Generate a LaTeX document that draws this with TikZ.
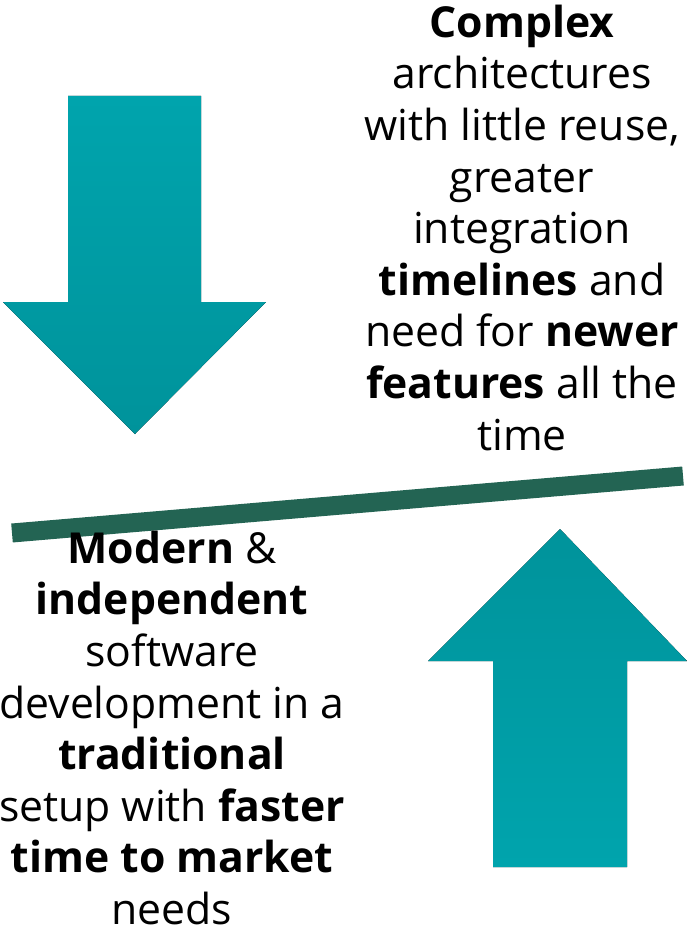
\documentclass[tikz,border=0pt]{standalone}
\usepackage{fontspec}
\setmainfont{Open Sans}

\definecolor{tealtop}{RGB}{0,164,173}
\definecolor{tealbot}{RGB}{0,147,155}
\definecolor{levercol}{RGB}{35,100,83}

\begin{document}
\begin{tikzpicture}[x=1pt, y=-1pt,
	blurb/.style={align=center, inner sep=0, font=\fontsize{42.7}{51.6}\selectfont}]
		\useasboundingbox (0, 0) rectangle (687, 931);

		% arrow pushing down
		\fill[top color=tealtop, bottom color=tealbot] (68, 96) -- (201, 96) -- (201, 302) -- (266, 302) -- (135, 434) -- (3, 302) -- (68, 302) -- cycle;
		% arrow pushing up
		\fill[top color=tealbot, bottom color=tealtop] (493, 867) -- (627, 867) -- (627, 661) -- (687, 661) -- (560, 529) -- (428, 661) -- (493, 661) -- cycle;

		% the tilted bar
		\draw[levercol, line width=19] (12, 533) -- (683, 476);

		\node[blurb, anchor=north] (complex) at (522, 4.6) {\textbf{Complex}\\architectures\\with little reuse,\\greater\\integration\\\textbf{timelines} and\\need for \textbf{newer}\\\textbf{features} all the\\time};
		\node[blurb, anchor=north] (modern) at (172, 530.6) {\textbf{Modern} \&\\\textbf{independent}\\software\\development in a\\\textbf{traditional}\\setup with \textbf{faster}\\\textbf{time to market}\\needs};
	\end{tikzpicture}
\end{document}
